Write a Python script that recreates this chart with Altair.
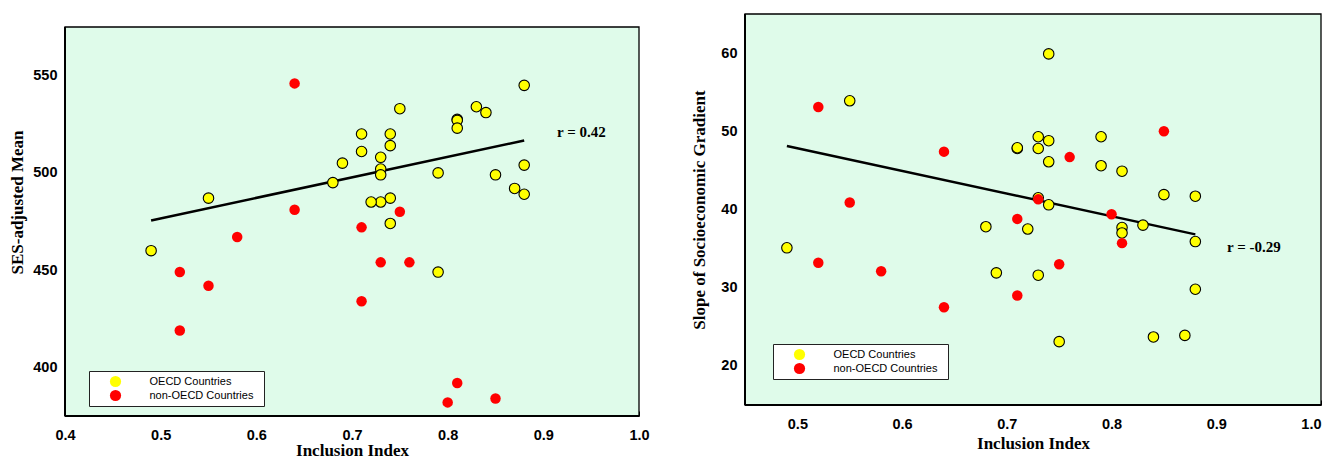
import altair as alt
import pandas as pd

GROUPS = ["OECD Countries", "non-OECD Countries"]
COLORS = ["#FFFF00", "#FF0000"]
BG = "#DFFBEA"

# ---- Left panel: SES-adjusted Mean vs Inclusion Index ----
left_oecd_x = [0.49, 0.55, 0.68, 0.69, 0.88, 0.75, 0.83, 0.84, 0.81, 0.81, 0.81, 0.71, 0.74, 0.74,
               0.71, 0.73, 0.73, 0.73, 0.79, 0.88, 0.85, 0.87, 0.88, 0.74, 0.73, 0.72, 0.74, 0.79]
left_oecd_y = [460, 487, 495, 505, 545, 533, 534, 531, 527.5, 527, 523, 520, 520, 514,
               511, 508, 502, 499, 500, 504, 499, 492, 489, 487, 485, 485, 474, 449]
left_non_x = [0.64, 0.64, 0.58, 0.52, 0.55, 0.52, 0.75, 0.71, 0.73, 0.76, 0.71, 0.81, 0.80, 0.85]
left_non_y = [546, 481, 467, 449, 442, 419, 480, 472, 454, 454, 434, 392, 382, 384]

# ---- Right panel: Slope of Socioeconomic Gradient vs Inclusion Index ----
right_oecd_x = [0.49, 0.55, 0.68, 0.69, 0.74, 0.73, 0.74, 0.71, 0.71, 0.73, 0.74, 0.79, 0.79, 0.81,
                0.85, 0.88, 0.73, 0.74, 0.72, 0.81, 0.81, 0.83, 0.88, 0.73, 0.88, 0.75, 0.84, 0.87]
right_oecd_y = [35.1, 53.9, 37.8, 31.9, 59.9, 49.3, 48.8, 47.8, 47.9, 47.8, 46.1, 49.3, 45.6, 44.9,
                41.9, 41.7, 41.5, 40.6, 37.5, 37.7, 37.0, 38.0, 35.9, 31.6, 29.8, 23.1, 23.7, 23.9]
right_non_x = [0.52, 0.64, 0.55, 0.52, 0.58, 0.64, 0.85, 0.76, 0.73, 0.80, 0.71, 0.81, 0.75, 0.71]
right_non_y = [53.1, 47.4, 40.9, 33.2, 32.1, 27.5, 50.0, 46.7, 41.3, 39.4, 38.8, 35.7, 33.0, 29.0]

x_ticks_left = [0.4, 0.5, 0.6, 0.7, 0.8, 0.9, 1.0]
x_ticks_right = [0.5, 0.6, 0.7, 0.8, 0.9, 1.0]
y_ticks_left = [400, 425, 450, 475, 500, 525, 550]
y_ticks_right = [20, 25, 30, 35, 40, 45, 50, 55, 60]


def make_df(ox, oy, nx, ny):
    return pd.DataFrame({
        "x": list(ox) + list(nx),
        "y": list(oy) + list(ny),
        "group": [GROUPS[0]] * len(ox) + [GROUPS[1]] * len(nx),
    })


def panel(df, xdom, xvals, xflush, xtitlepad, ydom, yvals, ystep, ytitle, ytitlepad, ytitley,
          rtext, rx, ry, legx, legy, w, h, top):
    H = h + top
    X = alt.X("x:Q", scale=alt.Scale(domain=xdom, nice=False, zero=False),
              axis=alt.Axis(values=xvals, format=".1f", title="Inclusion Index",
                            labelFlush=xflush, titlePadding=xtitlepad))
    Y = alt.Y("y:Q", scale=alt.Scale(domain=ydom, nice=False, zero=False, range=[H, top]),
              axis=alt.Axis(values=yvals, title=ytitle, titlePadding=ytitlepad,
                            titleY=ytitley, labelFlush=False,
                            labelExpr=f"datum.value % {ystep} === 0 ? datum.label : ''"))
    color = alt.Color("group:N", scale=alt.Scale(domain=GROUPS, range=COLORS),
                      legend=alt.Legend(orient="none", legendX=legx, legendY=legy + top,
                                        title=" ", titleOrient="right", titlePadding=6,
                                        titleFontSize=11,
                                        fillColor="white", strokeColor="#222",
                                        padding=4.5, symbolOffset=16, symbolSize=125,
                                        symbolStrokeWidth=0, symbolType="circle",
                                        symbolOpacity=1,
                                        labelFont="Liberation Sans", labelFontSize=11,
                                        labelColor="black", labelOffset=28, rowPadding=2))
    one = pd.DataFrame({"a": [0]})
    frame = alt.Chart(one).mark_rect(fill=BG, stroke="black", strokeWidth=1.3).encode(
        x=alt.value(0), x2=alt.value(w), y=alt.value(top), y2=alt.value(H))
    base = alt.Chart(df)
    line = base.transform_filter(alt.datum.group == GROUPS[0]).transform_regression(
        "x", "y").mark_line(color="black", strokeWidth=2.5).encode(x=X, y=Y)
    yellow = base.transform_filter(alt.datum.group == GROUPS[0]).mark_circle(
        size=110, opacity=1, stroke="black", strokeWidth=1.1).encode(x=X, y=Y, color=color)
    red = base.transform_filter(alt.datum.group == GROUPS[1]).mark_circle(
        size=110, opacity=1).encode(x=X, y=Y, color=color)
    txt = alt.Chart(pd.DataFrame({"t": [rtext]})).mark_text(
        align="left", baseline="middle", font="Liberation Serif", fontWeight="bold",
        fontSize=15, color="black").encode(text="t:N", x=alt.value(rx), y=alt.value(ry + top))
    left_edge = alt.Chart(one).mark_rule(color="black", strokeWidth=2).encode(
        x=alt.value(0), y=alt.value(top), y2=alt.value(H))
    bottom_edge = alt.Chart(one).mark_rule(color="black", strokeWidth=2).encode(
        x=alt.value(0), x2=alt.value(w), y=alt.value(H))
    return alt.layer(frame, line, yellow, red, txt, left_edge, bottom_edge).properties(
        width=w, height=H)


left = panel(make_df(left_oecd_x, left_oecd_y, left_non_x, left_non_y),
             [0.4, 1.0], x_ticks_left, False, 0.5, [375, 575], y_ticks_left, 50,
             "SES-adjusted Mean", 6, 188, "r = 0.42", 492, 104.5, 24, 344, 574, 389, 13)

right = panel(make_df(right_oecd_x, right_oecd_y, right_non_x, right_non_y),
              [0.45, 1.0], x_ticks_right, True, 4.5, [15, 65], y_ticks_right, 10,
              "Slope of Socioeconomic Gradient", 12, 195.5, "r = -0.29", 482, 232.5,
              28, 330, 576, 391, 0)

chart = alt.hconcat(left, right, spacing=40).resolve_scale(
    color="independent").resolve_legend(color="independent").properties(
    padding={"left": 0, "top": 5, "right": 0, "bottom": 0},
    background="white",
).configure_view(
    fill="white", stroke="transparent", strokeWidth=0
).configure_axis(
    domain=False, grid=False, tickColor="black", tickSize=5, tickWidth=1, offset=-5,
    labelFont="Liberation Sans", labelFontWeight="bold", labelFontSize=14.5,
    labelColor="black", labelPadding=8,
    titleFont="Liberation Serif", titleFontWeight="bold", titleFontSize=17,
    titleColor="black",
).configure_axisX(labelPadding=12)

chart.save("out.html", embed_options={"renderer": "svg", "actions": False})
